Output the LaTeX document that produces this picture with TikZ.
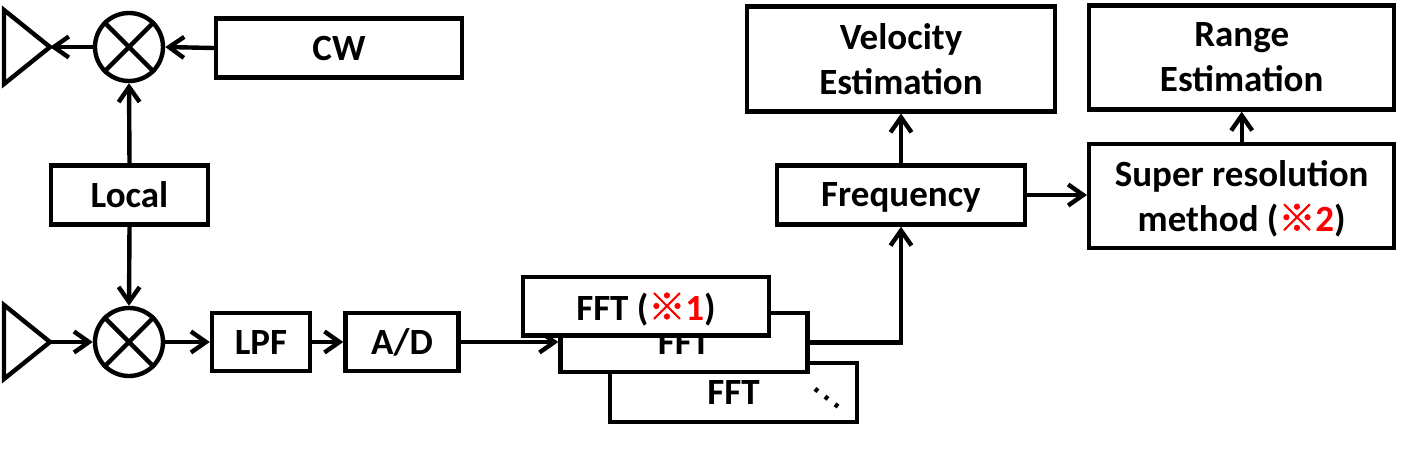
\documentclass[tikz,border=0pt]{standalone}
\usepackage{fontspec}
\setmainfont{Carlito}
\newfontfamily\cjk{Noto Sans CJK JP}[FakeBold=1.5]
\newfontfamily\dejavu{DejaVu Sans}
\usetikzlibrary{arrows.meta}
\begin{document}
\begin{tikzpicture}[x=1pt,y=-1pt,
  line width=4.4pt, line join=miter,
  font=\fontsize{37}{45}\selectfont\bfseries,
  box/.style={draw, fill=white, inner sep=0pt, align=center, text depth=0pt},
  mix/.style={draw, circle, inner sep=0pt, minimum size=68pt},
  arr/.style={-{Straight Barb[length=15pt,width=21pt]}}]
\useasboundingbox (0,0) rectangle (1402,455);
% antennas
\draw (4,10) -- (50,47) -- (4,84) -- cycle;
\coordinate (ant1) at (50,47);
\draw (4,305) -- (50,342) -- (4,379) -- cycle;
\coordinate (ant2) at (50,342);
% mixers
\node[mix] (m1) at (129,47) {};
\draw (m1.north west) -- (m1.south east) (m1.north east) -- (m1.south west);
\node[mix] (m2) at (129,342) {};
\draw (m2.north west) -- (m2.south east) (m2.north east) -- (m2.south west);
% boxes
\node[box, minimum width=246pt, minimum height=59pt] (cw) at (339,48) {CW};
\node[box, minimum width=157pt, minimum height=59pt] (local) at (129.5,195) {Local};
\node[box, minimum width=98pt, minimum height=58pt] (lpf) at (261,342) {LPF};
\node[box, minimum width=113pt, minimum height=58pt] (ad) at (402,342) {A/D};
\node[box, minimum width=247pt, minimum height=59pt] (fft3) at (733.5,392.5) {FFT};
\node[font=\dejavu\fontsize{38}{38}\selectfont, rotate=-37.6, inner sep=0pt] (dots) at (827,398) {…};
\node[box, minimum width=247pt, minimum height=59pt] (fft2) at (684,342.3) {FFT};
\node[box, minimum width=248pt, minimum height=59pt] (freq) at (901,195) {Frequency};
\node[box, minimum width=308pt, minimum height=105pt] (vel) at (901,58.8) {Velocity\\Estimation};
\node[box, minimum width=305pt, minimum height=104pt] (range) at (1241.7,57.5) {Range\\Estimation};
\node[box, minimum width=305pt, minimum height=104pt] (super) at (1241.7,195.8) {Super resolution\\method ({\cjk\color{red}※}{\color{red}2})};
% connectors
\draw[arr] (cw.west) -- (m1.east);
\draw[arr] (m1.west) -- (ant1);
\draw[arr] (local.north) -- (m1.south);
\draw[arr] (local.south) -- (m2.north);
\draw[arr] (ant2) -- (m2.west);
\draw[arr] (m2.east) -- (lpf.west);
\draw[arr] (lpf.east) -- (ad.west);
\draw[arr] (ad.east) -- (ad.east -| fft2.west);
\draw[arr] (fft2.east) -| (freq.south);
\draw[arr] (freq.north) -- (vel.south);
\draw[arr] (freq.east) -- (freq.east -| super.west);
\draw[arr] (super.north) -- (range.south);
% front FFT box
\node[box, minimum width=246pt, minimum height=58.7pt] (fft1) at (646,306.3) {FFT ({\cjk\color{red}※}{\color{red}1})};
\end{tikzpicture}
\end{document}
